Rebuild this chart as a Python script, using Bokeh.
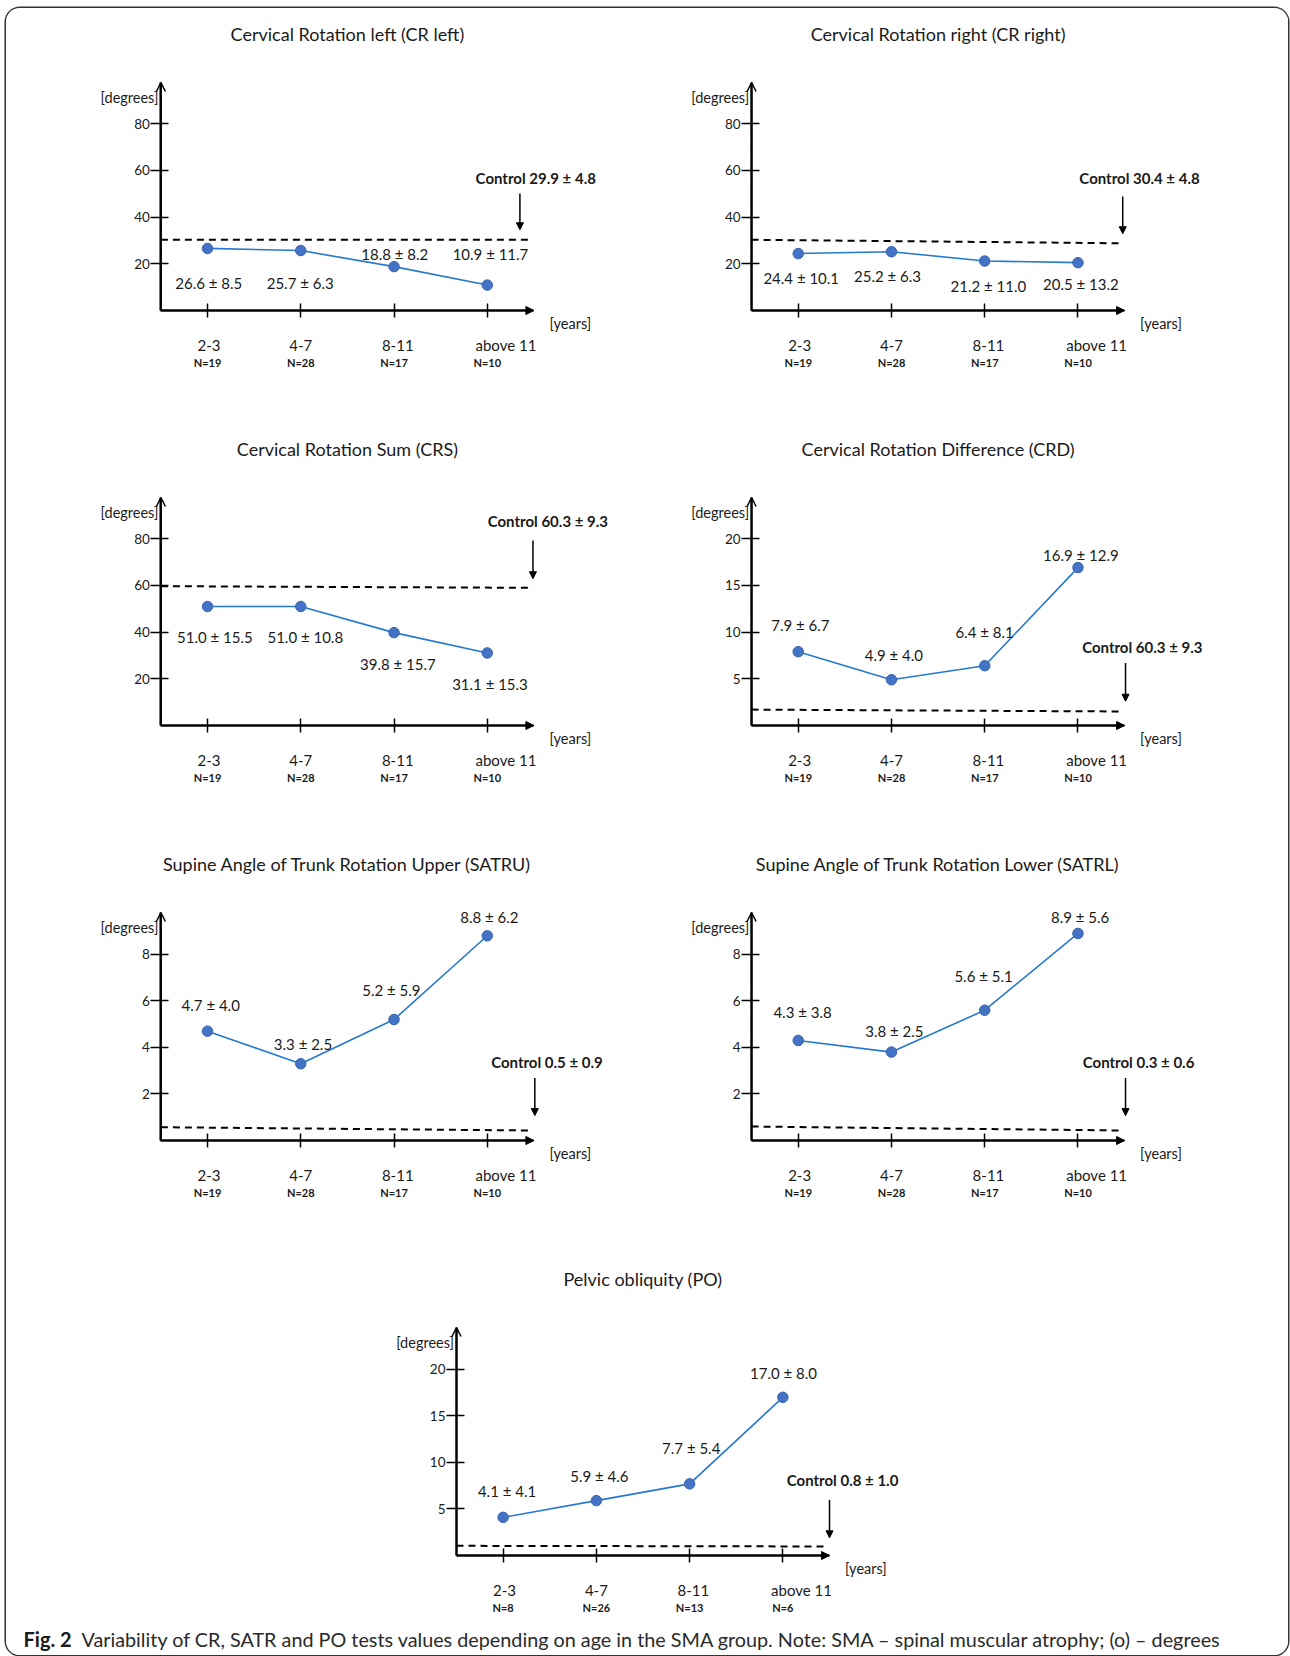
from bokeh.plotting import figure
from bokeh.layouts import column, row
from bokeh.models import Range1d, FixedTicker, Label, Arrow, NormalHead, OpenHead, LinearAxis, Spacer
from bokeh.embed import file_html
from bokeh.resources import INLINE

FONT = "Lato"
TXT = "#1a1a1a"
LINE_BLUE = "#2479cf"
DOT_BLUE = "#4472c4"
DOT_EDGE = "#3b64b0"

# ---------------- data ----------------
age_groups = ["2-3", "4-7", "8-11", "above 11"]
n_sma = ["N=19", "N=28", "N=17", "N=10"]
n_po = ["N=8", "N=26", "N=13", "N=6"]

titles = [
    "Cervical Rotation left (CR left)",
    "Cervical Rotation right (CR right)",
    "Cervical Rotation Sum (CRS)",
    "Cervical Rotation Difference (CRD)",
    "Supine Angle of Trunk Rotation Upper (SATRU)",
    "Supine Angle of Trunk Rotation Lower (SATRL)",
    "Pelvic obliquity (PO)",
]

cr_left_mean = [26.6, 25.7, 18.8, 10.9]
cr_left_sd = [8.5, 6.3, 8.2, 11.7]
cr_right_mean = [24.4, 25.2, 21.2, 20.5]
cr_right_sd = [10.1, 6.3, 11.0, 13.2]
crs_mean = [51.0, 51.0, 39.8, 31.1]
crs_sd = [15.5, 10.8, 15.7, 15.3]
crd_mean = [7.9, 4.9, 6.4, 16.9]
crd_sd = [6.7, 4.0, 8.1, 12.9]
satru_mean = [4.7, 3.3, 5.2, 8.8]
satru_sd = [4.0, 2.5, 5.9, 6.2]
satrl_mean = [4.3, 3.8, 5.6, 8.9]
satrl_sd = [3.8, 2.5, 5.1, 5.6]
po_mean = [4.1, 5.9, 7.7, 17.0]
po_sd = [4.1, 4.6, 5.4, 8.0]

control_mean = [29.9, 30.4, 60.3, 60.3, 0.5, 0.3, 0.8]
control_sd = [4.8, 4.8, 9.3, 9.3, 0.9, 0.6, 1.0]
# dashed control line as drawn (left end, right end)
control_line_start = [30.3, 30.3, 59.7, 1.7, 0.57, 0.6, 1.04]
control_line_end = [30.3, 28.8, 59.0, 1.5, 0.43, 0.43, 0.97]

y_ticks = [[20, 40, 60, 80]] * 3 + [[5, 10, 15, 20], [2, 4, 6, 8], [2, 4, 6, 8], [5, 10, 15, 20]]
y_axis_top = [97.7, 97.7, 97.7, 24.4, 9.8, 9.8, 24.5]

caption_bold = "Fig. 2"
caption_text = ("Variability of CR, SATR and PO tests values depending on age in the SMA group. "
                "Note: SMA \u2013 spinal muscular atrophy; (o) \u2013 degrees")

# ---------------- layout / styling constants ----------------
AXIS_W = 373.0          # length of the x axis (px), spans categories -0.5 .. 3.5
AXIS_H = 228.0          # length of the y axis (px)
PX_X = AXIS_W / 4.0

# panel boxes on the page: x0, y0, width, height, y-axis page x, x-axis page y
panel_box = [
    (6, 8, 639, 407, 160.4, 310),
    (645, 8, 643, 407, 751.1, 310),
    (6, 415, 639, 415, 160.4, 725),
    (645, 415, 643, 415, 751.1, 725),
    (6, 830, 639, 415, 160.4, 1140),
    (645, 830, 643, 415, 751.1, 1140),
    (6, 1245, 1282, 410, 456.0, 1555),
]

# horizontal shift of each age-group label relative to its tick (category units)
cat_label_shift = [0.015, 0.0, 0.04, 0.2]

# value-label offsets from their point, in pixels (dy > 0 means below)
label_dx = [
    [1.3, -0.6, 0.8, 3.2],
    [3.0, -3.9, 3.7, 2.9],
    [7.3, 4.5, 3.9, 2.7],
    [2.2, 2.4, -0.2, 2.9],
    [3.2, 2.2, -2.7, 2.1],
    [4.3, 2.9, -1.2, 2.1],
    [3.9, 3.0, 1.6, 0.6],
]
label_dy = [
    [34.8, 32.7, -12.8, -31.3],
    [24.2, 24.8, 24.5, 21.8],
    [30.7, 30.7, 31.6, 30.9],
    [-26.2, -25.2, -33.5, -12.8],
    [-26.6, -19.9, -29.7, -18.5],
    [-28.3, -20.6, -34.7, -16.2],
    [-26.1, -24.4, -36.0, -24.1],
]
# control annotation: label (x, y), arrow x, arrow y from -> to, dashed line x end
ctrl_label_xy = [(3.52, 56.6), (3.66, 56.9), (3.65, 87.8), (3.69, 8.4), (3.64, 3.36), (3.65, 3.36), (3.64, 8.06)]
ctrl_arrow = [(3.35, 50.1, 34.6), (3.48, 48.8, 32.9), (3.49, 79.3, 62.9), (3.51, 6.7, 2.6),
              (3.51, 2.69, 1.07), (3.51, 2.69, 1.07), (3.50, 5.98, 1.9)]
line_x_end = [3.44, 3.48, 3.49, 3.48, 3.47, 3.48, 3.45]


def build_panel(k, means, sds, n_labels):
    x0, y0, w, h, ax_px, ay_px = panel_box[k]
    ytop = y_axis_top[k]
    ppu = AXIS_H / ytop
    xs0 = -0.5 - (ax_px - x0) / PX_X
    ys0 = -((y0 + h) - ay_px) / ppu
    p = figure(width=w, height=h,
               x_range=Range1d(xs0, xs0 + w / PX_X), y_range=Range1d(ys0, ys0 + h / ppu),
               min_border=0, min_border_left=0, min_border_right=0, min_border_top=0, min_border_bottom=0,
               output_backend="svg", toolbar_location=None)
    p.title.visible = False
    p.outline_line_color = None
    p.xgrid.visible = False
    p.ygrid.visible = False
    p.background_fill_color = "white"
    p.border_fill_color = "white"

    # y axis, drawn at x = -0.5
    ya = p.yaxis[0]
    ya.fixed_location = -0.5
    ya.bounds = (0, ytop)
    ya.ticker = FixedTicker(ticks=y_ticks[k])
    ya.minor_tick_line_color = None
    ya.major_tick_in = 8
    ya.major_tick_out = 10
    ya.major_tick_line_width = 1.5
    ya.major_tick_line_color = "black"
    ya.axis_line_width = 2
    ya.axis_line_color = "black"
    ya.major_label_standoff = 1
    ya.major_label_text_font = FONT
    ya.major_label_text_font_size = "13.5px"
    ya.major_label_text_color = TXT

    # x axis (line, tick marks and group sizes), drawn at y = 0
    xa = p.xaxis[0]
    xa.fixed_location = 0
    xa.bounds = (-0.5, 3.5)
    xa.ticker = FixedTicker(ticks=[0, 1, 2, 3])
    xa.major_label_overrides = {i: n for i, n in enumerate(n_labels)}
    xa.minor_tick_line_color = None
    xa.major_tick_in = 7
    xa.major_tick_out = 7
    xa.major_tick_line_width = 1.5
    xa.major_tick_line_color = "black"
    xa.axis_line_width = 2
    xa.axis_line_color = "black"
    xa.major_label_standoff = 38
    xa.major_label_text_font = FONT
    xa.major_label_text_font_size = "11px"
    xa.major_label_text_font_style = "bold"
    xa.major_label_text_color = TXT

    # age-group names (second axis, labels only)
    cat_pos = [i + cat_label_shift[i] for i in range(4)]
    xb = LinearAxis(ticker=FixedTicker(ticks=cat_pos), fixed_location=0, bounds=(-0.5, 3.5),
                    major_label_overrides={cat_pos[i]: g for i, g in enumerate(age_groups)},
                    axis_line_color=None, major_tick_line_color=None, minor_tick_line_color=None,
                    major_tick_in=0, major_tick_out=0, major_label_standoff=25,
                    major_label_text_font=FONT, major_label_text_font_size="15px",
                    major_label_text_color=TXT)
    p.add_layout(xb, "below")

    # axis arrow heads
    p.add_layout(Arrow(end=OpenHead(size=9, line_width=1.5, line_color="black"),
                       x_start=-0.5, y_start=0, x_end=-0.5, y_end=ytop,
                       line_width=2, line_color="black"))
    p.add_layout(Arrow(end=NormalHead(size=8, fill_color="black", line_color="black", line_width=1),
                       x_start=-0.5, y_start=0, x_end=3.5, y_end=0,
                       line_width=2, line_color="black"))

    # control (dashed) line
    p.line([-0.5, line_x_end[k]], [control_line_start[k], control_line_end[k]],
           line_color="black", line_width=2, line_dash="7 5")

    # data
    xs = [0, 1, 2, 3]
    p.line(xs, means, line_color=LINE_BLUE, line_width=1.6)
    p.scatter(xs, means, size=10.5, fill_color=DOT_BLUE, line_color=DOT_EDGE, line_width=1)

    for i, (m, s) in enumerate(zip(means, sds)):
        p.add_layout(Label(x=i + label_dx[k][i] / PX_X, y=m - label_dy[k][i] / ppu,
                           text=f"{m:.1f} \u00b1 {s:.1f}", text_align="center", text_baseline="middle",
                           text_font=FONT, text_font_size="15px", text_color=TXT))

    # control annotation
    cx, cy = ctrl_label_xy[k]
    p.add_layout(Label(x=cx, y=cy, text=f"Control {control_mean[k]:.1f} \u00b1 {control_sd[k]:.1f}",
                       text_align="center", text_baseline="middle", text_font=FONT,
                       text_font_size="15px", text_font_style="bold", text_color=TXT))
    axx, ay0, ay1 = ctrl_arrow[k]
    p.add_layout(Arrow(end=NormalHead(size=7, fill_color="black", line_color="black", line_width=1),
                       x_start=axx, y_start=ay0, x_end=axx, y_end=ay1,
                       line_width=1.5, line_color="black"))

    # title and axis captions
    p.add_layout(Label(x=1.5, y=ytop + 49 / ppu, text=titles[k], text_align="center",
                       text_baseline="middle", text_font=FONT, text_font_size="18px", text_color=TXT))
    p.add_layout(Label(x=-0.5 - 2.5 / PX_X, y=ytop - 15 / ppu, text="[degrees]", text_align="right",
                       text_baseline="middle", text_font=FONT, text_font_size="14.5px", text_color=TXT))
    p.add_layout(Label(x=3.5 + 15.5 / PX_X, y=-13 / ppu, text="[years]", text_align="left",
                       text_baseline="middle", text_font=FONT, text_font_size="14.5px", text_color=TXT))
    return p, ppu


p1, _ = build_panel(0, cr_left_mean, cr_left_sd, n_sma)
p2, _ = build_panel(1, cr_right_mean, cr_right_sd, n_sma)
p3, _ = build_panel(2, crs_mean, crs_sd, n_sma)
p4, _ = build_panel(3, crd_mean, crd_sd, n_sma)
p5, _ = build_panel(4, satru_mean, satru_sd, n_sma)
p6, _ = build_panel(5, satrl_mean, satrl_sd, n_sma)
p7, ppu7 = build_panel(6, po_mean, po_sd, n_po)

# caption (drawn inside the last panel, below its axis)
cap_y = -83 / ppu7
p7.add_layout(Label(x=-0.5 + (23 - 456) / PX_X, y=cap_y, text=caption_bold, text_align="left",
                    text_baseline="middle", text_font=FONT, text_font_size="20px",
                    text_font_style="bold", text_color=TXT))
p7.add_layout(Label(x=-0.5 + (81 - 456) / PX_X, y=cap_y, text=caption_text, text_align="left",
                    text_baseline="middle", text_font=FONT, text_font_size="19.8px", text_color="#2a2a2a"))

framed = column(row(p1, p2), row(p3, p4), row(p5, p6), p7,
                styles={"box-shadow": "0 0 0 1.5px #333333", "border-radius": "14px",
                        "overflow": "hidden", "background-color": "white"})
layout = column(Spacer(width=1288, height=8), row(Spacer(width=6, height=1647), framed))

open("out.html", "w").write(file_html(layout, INLINE))
